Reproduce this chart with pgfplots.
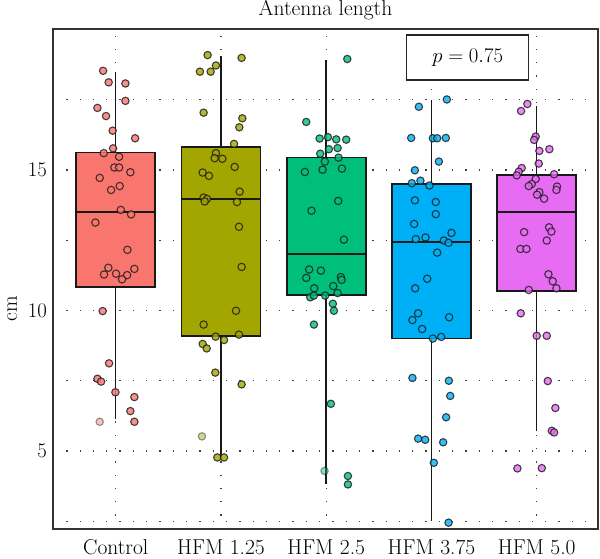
\documentclass[border=0pt]{standalone}
\usepackage{pgfplots}
\pgfplotsset{compat=1.18}
\usepgfplotslibrary{statistics}

\definecolor{cControl}{HTML}{F8766D}
\definecolor{cA}{HTML}{A3A500}
\definecolor{cB}{HTML}{00BF7D}
\definecolor{cC}{HTML}{00B0F6}
\definecolor{cD}{HTML}{E76BF3}

\newcommand{\lbl}{\fontsize{21.5}{25}\selectfont}

\pgfplotsset{
  pts/.style={only marks, mark=*, mark size=3.7pt,
    mark options={draw=black!90, fill=#1, line width=1.1pt, opacity=0.8}},
  ptsl/.style={only marks, mark=*, mark size=3.7pt,
    mark options={draw=black!90, fill=#1, line width=1.1pt, opacity=0.45}},
  bx/.style={draw=black!90, fill=#1, line width=1.6pt, solid},
  boxplot/draw direction=y,
  boxplot/every box/.style={line width=1.7pt},
  boxplot/every whisker/.style={line width=1.5pt},
  boxplot/every median/.style={line width=2pt},
}

\begin{document}
\begin{tikzpicture}
\begin{axis}[
  scale only axis, width=545pt, height=500pt,
  xmin=0.404, xmax=5.582, ymin=2.224, ymax=20.018,
  xtick={1,2,3,4,5},
  xticklabels={Control, HFM 1.25, HFM 2.5, HFM 3.75, HFM 5.0},
  ytick={5,10,15}, minor ytick={2.5,7.5,12.5,17.5},
  major tick length=0pt, minor tick length=0pt,
  grid=both,
  major grid style={black!75, line width=1.3pt, dash pattern=on 1.3pt off 12pt},
  minor grid style={black!75, line width=1.3pt, dash pattern=on 1.3pt off 12pt},
  axis line style={black!80, line width=1.5pt},
  tick label style={font=\lbl},
  yticklabel style={inner sep=0pt, xshift=-6pt},
  xticklabel style={anchor=base, inner sep=0pt, yshift=-25.5pt},
  title={Antenna length},
  title style={font=\lbl, inner sep=0pt, at={(axis description cs:0.5,1)}, anchor=base, yshift=7pt},
  ylabel={cm},
  ylabel style={font=\lbl, inner sep=0pt, at={(axis description cs:-0.075,0.44)}, anchor=center},
  clip=false,
]
\coordinate (sw) at (rel axis cs:0,0);
\coordinate (ne) at (rel axis cs:1,1);

% boxes
\addplot[bx=cControl, boxplot prepared={draw position=1, lower whisker=6.13, lower quartile=10.84,
  median=13.52, upper quartile=15.62, upper whisker=18.48, box extend=0.75, whisker extend=0}] coordinates {};
\addplot[bx=cA, boxplot prepared={draw position=2, lower whisker=4.76, lower quartile=9.09,
  median=13.97, upper quartile=15.83, upper whisker=19.06, box extend=0.75, whisker extend=0}] coordinates {};
\addplot[bx=cB, boxplot prepared={draw position=3, lower whisker=3.83, lower quartile=10.55,
  median=12.0, upper quartile=15.44, upper whisker=18.91, box extend=0.75, whisker extend=0}] coordinates {};
\addplot[bx=cC, boxplot prepared={draw position=4, lower whisker=2.52, lower quartile=9.0,
  median=12.43, upper quartile=14.49, upper whisker=17.49, box extend=0.75, whisker extend=0}] coordinates {};
\addplot[bx=cD, boxplot prepared={draw position=5, lower whisker=5.71, lower quartile=10.70,
  median=13.51, upper quartile=14.82, upper whisker=17.28, box extend=0.75, whisker extend=0}] coordinates {};

% jittered observations
\addplot[pts=cControl] table {
x y
0.880 18.53
0.933 18.12
1.092 18.08
1.092 17.46
0.826 17.21
0.908 16.92
0.971 16.40
1.184 16.13
0.975 15.77
0.886 15.60
1.032 15.47
0.987 15.09
1.032 15.09
1.139 14.92
0.848 14.72
1.038 14.43
0.956 14.29
1.048 13.58
1.146 13.42
0.807 13.13
1.111 12.16
0.930 11.52
1.177 11.48
0.889 11.28
1.003 11.31
1.108 11.26
1.060 11.11
0.876 9.98
0.937 8.12
0.826 7.57
0.861 7.47
0.997 7.09
1.177 6.92
1.139 6.42
1.177 6.04
};
\addplot[ptsl=cControl] table {
x y
0.848 6.04
};

\addplot[pts=cA] table {
x y
1.873 19.09
2.196 18.99
1.952 18.72
1.800 18.50
1.902 18.50
1.835 17.04
2.203 16.84
2.174 16.52
2.124 15.93
1.952 15.60
1.940 15.42
2.013 15.40
2.130 15.11
1.826 14.91
1.886 14.79
2.177 14.23
1.835 14.02
1.867 13.97
1.845 13.88
2.152 13.86
2.171 12.98
2.196 11.55
2.143 9.99
1.835 9.50
1.949 9.07
2.171 9.14
2.029 8.95
1.826 8.81
1.864 8.65
1.946 7.79
2.196 7.37
1.965 4.77
2.029 4.77
};
\addplot[ptsl=cA] table {
x y
1.819 5.52
};

\addplot[pts=cB] table {
x y
3.200 18.95
2.810 16.71
2.937 16.12
3.016 16.17
3.095 16.09
3.190 16.08
3.025 15.74
3.108 15.78
2.943 15.58
3.117 15.44
2.987 15.30
2.797 14.93
2.965 15.01
3.149 15.05
3.114 13.90
2.860 13.55
3.168 12.52
2.838 11.46
2.949 11.42
2.810 11.16
3.139 11.19
3.146 11.09
2.886 10.79
3.067 10.87
3.108 10.62
2.848 10.47
2.883 10.53
2.990 10.53
3.063 10.24
3.073 9.99
2.883 9.50
3.044 6.68
3.206 4.11
3.206 3.81
};
\addplot[ptsl=cB] table {
x y
2.984 4.29
};

\addplot[pts=cC] table {
x y
4.146 17.51
3.880 17.25
3.807 16.14
4.013 16.13
4.054 16.13
4.136 16.14
4.070 15.30
3.842 14.99
3.895 14.62
3.813 14.53
3.981 14.45
3.842 13.92
4.041 13.86
4.041 13.43
3.835 13.08
4.190 12.76
3.943 12.60
3.851 12.54
4.117 12.49
4.162 12.41
4.054 12.06
3.959 11.13
3.845 10.79
3.873 9.90
3.819 9.66
4.168 9.76
3.911 9.34
4.013 9.00
4.092 9.06
3.819 7.60
4.165 7.50
4.178 6.96
4.139 6.20
3.873 5.44
3.940 5.40
4.111 5.31
4.022 4.58
4.162 2.45
};

\addplot[pts=cD] table {
x y
4.911 17.35
4.851 17.10
4.990 16.19
4.975 16.07
5.025 15.68
5.120 15.74
5.019 15.23
4.857 15.07
4.829 14.94
4.810 14.81
5.165 14.85
4.990 14.68
4.952 14.50
4.924 14.43
5.193 14.41
5.187 14.29
5.025 14.21
5.003 14.12
5.070 13.98
5.117 12.96
5.139 12.81
4.880 12.79
5.095 12.49
4.845 12.19
4.902 12.19
5.111 11.29
5.152 11.04
5.187 10.79
4.924 10.73
4.848 9.90
5.000 9.10
5.095 9.10
5.105 7.49
5.177 6.53
5.143 5.72
5.165 5.66
4.816 4.38
5.048 4.39
};

% test annotation
\node[draw=black!85, line width=1.2pt, fill=white, minimum width=122pt,
  minimum height=45pt, inner sep=0pt, font=\lbl]
  at (rel axis cs:0.761,0.943) {$p = 0.75$};
\end{axis}
\pgfresetboundingbox
\path ([shift={(-53pt,-29pt)}]sw) rectangle ([shift={(2pt,29pt)}]ne);
\end{tikzpicture}
\end{document}
